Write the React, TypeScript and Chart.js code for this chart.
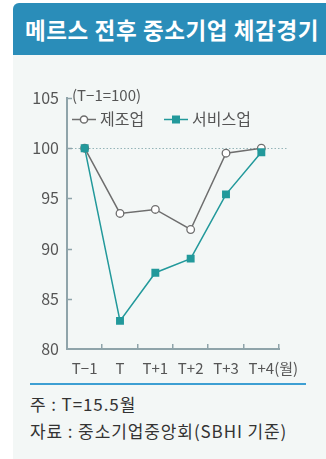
import React, { useEffect, useRef } from 'react';
import { Chart, registerables } from 'chart.js';

Chart.register(...registerables);

// ---- data ----
const title = '메르스 전후 중소기업 체감경기';
const unitLabel = '(T−1=100)';
const categories = ['T−1', 'T', 'T+1', 'T+2', 'T+3', 'T+4'];
const xUnit = '(월)';
const manufacturing = [100, 93.5, 93.9, 91.9, 99.5, 100];
const services = [100, 82.8, 87.6, 89.0, 95.4, 99.6];
const seriesNames = ['제조업', '서비스업'];
const yMin = 80;
const yMax = 105;
const yStep = 5;
const baseline = 100;
const notes = ['주 : T=15.5월', '자료 : 중소기업중앙회(SBHI 기준)'];

// ---- styles ----
const FONT = '"Noto Sans CJK KR", "Noto Sans", sans-serif';
const AXIS = '#8fa4aa';
const GRAY = '#6e6e6e';
const TEAL = '#22999b';
const TEXT = '#555555';

const decor = {
  id: 'decor',
  beforeDatasetsDraw(chart: any) {
    const { ctx, chartArea, scales } = chart;
    const y = scales.y;
    const yy = Math.round(y.getPixelForValue(baseline)) + 0.5;
    ctx.save();
    ctx.strokeStyle = '#94b4b8';
    ctx.lineWidth = 1;
    ctx.setLineDash([1.5, 2]);
    ctx.beginPath();
    ctx.moveTo(chartArea.left + 1, yy);
    ctx.lineTo(chartArea.right + 9, yy);
    ctx.stroke();
    ctx.restore();
  },
  afterDraw(chart: any) {
    const { ctx, chartArea, scales } = chart;
    const x = scales.x;
    const y = scales.y;
    ctx.save();
    // inward tick marks
    ctx.strokeStyle = AXIS;
    ctx.lineWidth = 1.5;
    ctx.beginPath();
    for (let v = yMin + yStep; v <= yMax; v += yStep) {
      const py = Math.round(y.getPixelForValue(v)) + 0.5;
      ctx.moveTo(chartArea.left, py);
      ctx.lineTo(chartArea.left + 5, py);
    }
    const step = x.getPixelForValue(1) - x.getPixelForValue(0);
    for (let i = 0; i < categories.length; i++) {
      const px = Math.round(x.getPixelForValue(i) + step / 2) - 0.25;
      ctx.moveTo(px, chartArea.bottom);
      ctx.lineTo(px, chartArea.bottom - 5);
    }
    ctx.stroke();

    // x unit after last label
    ctx.fillStyle = TEXT;
    ctx.font = `15px ${FONT}`;
    ctx.textBaseline = 'middle';
    ctx.textAlign = 'left';
    const lastX = x.getPixelForValue(categories.length - 1);
    const lastW = ctx.measureText(categories[categories.length - 1]).width;
    ctx.fillText(xUnit, lastX + lastW / 2, chartArea.bottom + 19);

    // unit label
    ctx.font = `15px ${FONT}`;
    ctx.fillText(unitLabel, chartArea.left + 5, chartArea.top - 3);

    // legend
    const items = [
      { ds: chart.data.datasets[1], x0: 72 },
      { ds: chart.data.datasets[0], x0: 164 },
    ];
    const ly = 119;
    items.forEach(({ ds, x0 }) => {
      ctx.strokeStyle = ds.borderColor;
      ctx.lineWidth = 1.5;
      ctx.beginPath();
      ctx.moveTo(x0, ly + 0.5);
      ctx.lineTo(x0 + 24, ly + 0.5);
      ctx.stroke();
      const cx = x0 + 12;
      if (ds.pointStyle === 'rect') {
        ctx.fillStyle = ds.pointBackgroundColor;
        ctx.fillRect(cx - 4, ly - 3.5, 8, 8);
      } else {
        ctx.fillStyle = ds.pointBackgroundColor;
        ctx.beginPath();
        ctx.arc(cx, ly + 0.5, 3.6, 0, Math.PI * 2);
        ctx.fill();
        ctx.stroke();
      }
      ctx.fillStyle = TEXT;
      ctx.font = `16px ${FONT}`;
      ctx.fillText(ds.label, x0 + 28, ly);
    });
    ctx.restore();
  },
};

function ChartCanvas() {
  const ref = useRef<HTMLCanvasElement | null>(null);
  useEffect(() => {
    if (!ref.current) return;
    const chart = new Chart(ref.current, {
      type: 'line',
      data: {
        labels: categories,
        datasets: [
          {
            label: seriesNames[1],
            data: services,
            borderColor: TEAL,
            borderWidth: 1.5,
            pointStyle: 'rect',
            pointRadius: 5.6,
            pointBackgroundColor: TEAL,
            pointBorderColor: TEAL,
            pointBorderWidth: 0,
            tension: 0,
            order: 0,
          },
          {
            label: seriesNames[0],
            data: manufacturing,
            borderColor: GRAY,
            borderWidth: 1.5,
            pointStyle: 'circle',
            pointRadius: 3.8,
            pointBackgroundColor: '#ffffff',
            pointBorderColor: GRAY,
            pointBorderWidth: 1.3,
            tension: 0,
            order: 1,
          },
        ],
      },
      options: {
        animation: false,
        responsive: false,
        devicePixelRatio: 1,
        layout: { padding: { left: 0, top: 98, right: 47, bottom: 0 } },
        plugins: { legend: { display: false }, tooltip: { enabled: false } },
        events: [],
        scales: {
          x: {
            type: 'category',
            offset: true,
            grid: { display: false, offset: true, drawTicks: false },
            border: { display: true, color: AXIS, width: 2 },
            ticks: {
              color: TEXT,
              font: { family: FONT, size: 15 },
              padding: 10,
              maxRotation: 0,
              autoSkip: false,
            },
            afterFit: (s: any) => {
              s.height = 31;
            },
          },
          y: {
            min: yMin,
            max: yMax,
            grid: { display: false, drawTicks: false },
            border: { display: true, color: AXIS, width: 2 },
            ticks: {
              stepSize: yStep,
              color: TEXT,
              font: { family: FONT, size: 16 },
              padding: 8,
            },
            afterFit: (s: any) => {
              s.width = 67;
            },
          },
        },
      },
      plugins: [decor],
    });
    return () => chart.destroy();
  }, []);
  return (
    <canvas
      ref={ref}
      width={326}
      height={380}
      style={{ position: 'absolute', left: 0, top: 0, width: 326, height: 380 }}
    />
  );
}

export default function App() {
  return (
    <div style={{ position: 'absolute', left: 0, top: 0, width: 326, height: 459, overflow: 'hidden', fontFamily: FONT }}>
      <div
        style={{
          position: 'absolute',
          left: 13,
          top: 3,
          width: 313,
          height: 456,
          background: '#f3f7f6',
          borderTopLeftRadius: 6,
          overflow: 'hidden',
        }}
      >
        <div
          style={{
            height: 52,
            background: '#2a8db9',
            color: '#ffffff',
            fontWeight: 700,
            fontSize: 22.5,
            letterSpacing: 0.6,
            lineHeight: '52px',
            paddingLeft: 12,
            whiteSpace: 'nowrap',
          }}
        >
          {title}
        </div>
      </div>
      <ChartCanvas />
      <div style={{ position: 'absolute', left: 30, top: 383, width: 276, height: 2, background: '#3d9fd3' }} />
      {notes.map((n, i) => (
        <div
          key={i}
          style={{
            position: 'absolute',
            left: 30,
            top: 392 + i * 27,
            fontSize: 17,
            lineHeight: '24px',
            color: '#333333',
            whiteSpace: 'nowrap',
            letterSpacing: 0.9,
          }}
        >
          {n}
        </div>
      ))}
    </div>
  );
}
